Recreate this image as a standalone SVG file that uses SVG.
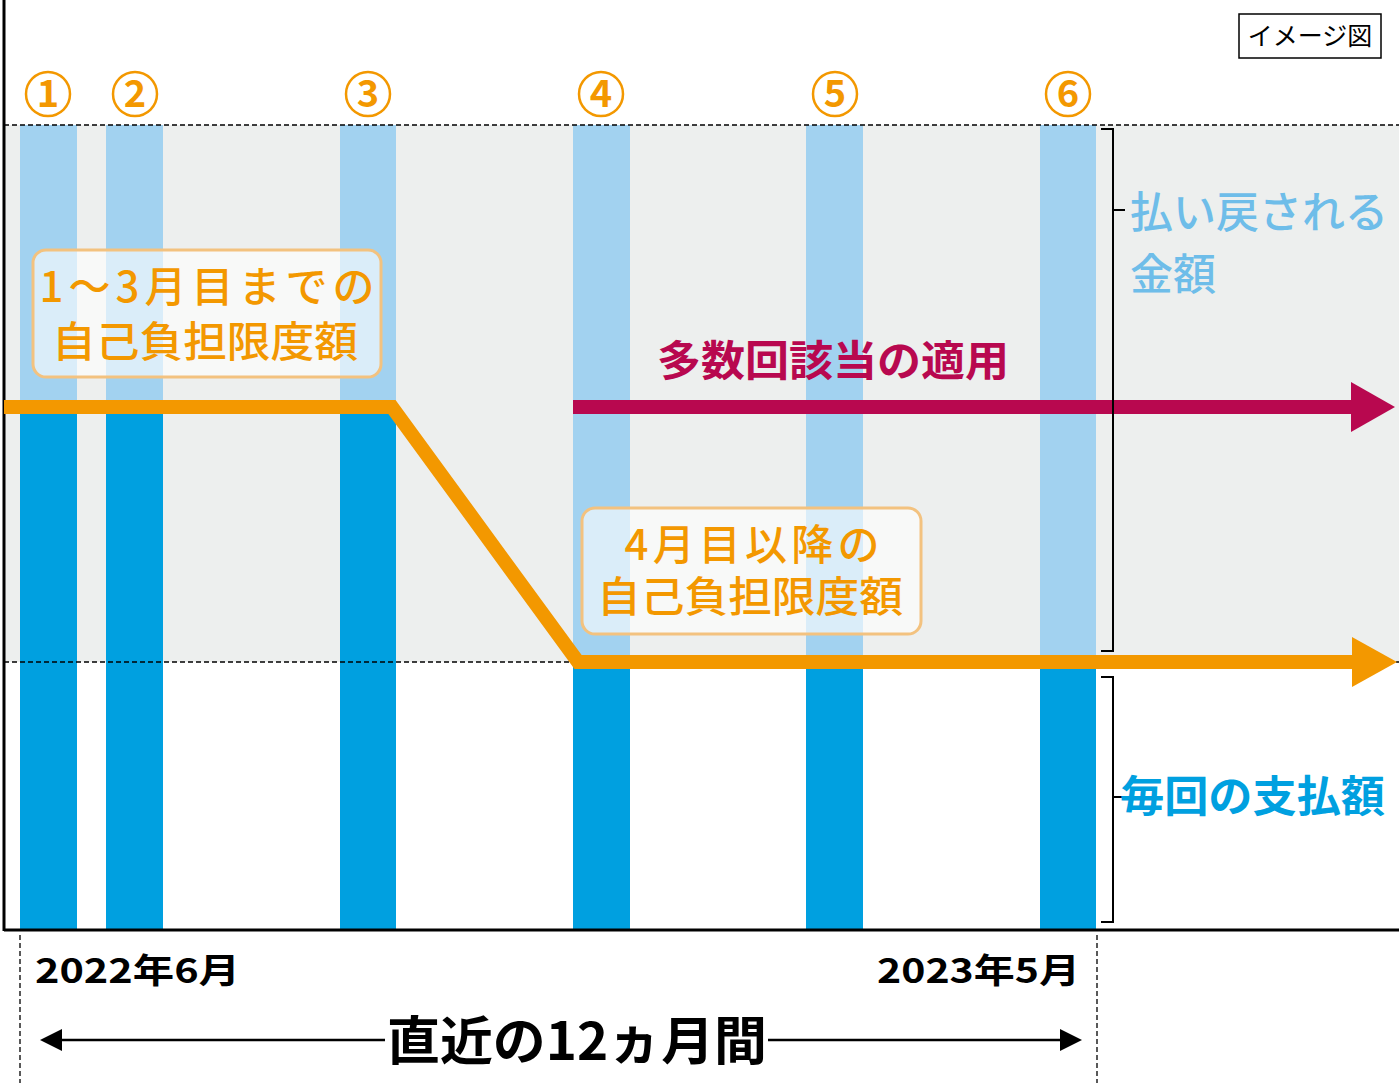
<svg xmlns="http://www.w3.org/2000/svg" width="1399" height="1083" viewBox="0 0 1399 1083">
<style>
.lb{fill:#a2d2f0}.db{fill:#00a0e0}
.cn{font-family:"Noto Sans CJK JP",sans-serif;font-weight:bold;font-size:38px;fill:#f39800;text-anchor:middle}
.or{font-family:"Noto Sans CJK JP",sans-serif;font-weight:500;font-size:42px;fill:#f39800;text-anchor:middle}
.box{fill:#ffffff;fill-opacity:0.6;stroke:#f3c27f;stroke-width:3}
.dash{stroke:#000;stroke-width:1.3;stroke-dasharray:5 3;fill:none}
.br{stroke:#000;stroke-width:2;fill:none}
.bk{font-family:"Noto Sans CJK JP",sans-serif;font-weight:bold;fill:#000}
</style>
<rect width="1399" height="1083" fill="#fff"/>
<rect x="4" y="125" width="1395" height="537" fill="#edefee"/>
<g id="bars">
<rect class="lb" x="20" y="125" width="57" height="283"/><rect class="db" x="20" y="408" width="57" height="522"/>
<rect class="lb" x="106" y="125" width="57" height="283"/><rect class="db" x="106" y="408" width="57" height="522"/>
<rect class="lb" x="340" y="125" width="56" height="283"/><rect class="db" x="340" y="408" width="56" height="522"/>
<rect class="lb" x="573" y="125" width="57" height="537"/><rect class="db" x="573" y="662" width="57" height="268"/>
<rect class="lb" x="806" y="125" width="57" height="537"/><rect class="db" x="806" y="662" width="57" height="268"/>
<rect class="lb" x="1040" y="125" width="56" height="537"/><rect class="db" x="1040" y="662" width="56" height="268"/>
</g>
<line class="dash" x1="4" y1="125" x2="1399" y2="125"/>
<line class="dash" x1="4" y1="662" x2="1399" y2="662"/>
<g id="axes" stroke="#000" stroke-width="3"><line x1="4" y1="0" x2="4" y2="931"/><line x1="4" y1="930" x2="1399" y2="930"/></g>
<g id="numbers" fill="none" stroke="#f39800" stroke-width="2.5">
<circle cx="48" cy="94" r="22"/><circle cx="135" cy="94" r="22"/><circle cx="368" cy="94" r="22"/><circle cx="601" cy="94" r="22"/><circle cx="835" cy="94" r="22"/><circle cx="1068" cy="94" r="22"/>
</g>
<g>
<text class="cn" x="48" y="107">1</text><text class="cn" x="135" y="107">2</text><text class="cn" x="368" y="107">3</text><text class="cn" x="601" y="107">4</text><text class="cn" x="835" y="107">5</text><text class="cn" x="1068" y="107">6</text>
</g>
<g id="connectors">
<polyline points="4,407 392,407 578,662 1356,662" fill="none" stroke="#f39800" stroke-width="14"/>
<path d="M1352,637L1397,662L1352,687z" fill="#f39800"/>
<line x1="573" y1="407" x2="1355" y2="407" stroke="#b8084f" stroke-width="14"/>
<path d="M1351,382L1395,407L1351,432z" fill="#b8084f"/>
</g>
<g id="box1"><rect class="box" x="33" y="250" width="348" height="127" rx="13"/>
<text class="or" x="207" y="302" textLength="335" lengthAdjust="spacing">1～3月目までの</text><text class="or" x="205" y="357" textLength="306" lengthAdjust="spacingAndGlyphs">自己負担限度額</text></g>
<g id="box2"><rect class="box" x="582" y="508" width="339" height="126" rx="13"/>
<text class="or" x="752" y="560" textLength="255" lengthAdjust="spacing">4月目以降の</text><text class="or" x="750" y="612" textLength="306" lengthAdjust="spacingAndGlyphs">自己負担限度額</text></g>
<text x="833" y="376" font-family="Noto Sans CJK JP,sans-serif" font-weight="bold" font-size="42" fill="#b8084f" text-anchor="middle" textLength="352" lengthAdjust="spacingAndGlyphs">多数回該当の適用</text>
<g id="brackets">
<path class="br" d="M1101,129H1113V651H1101M1113,210H1125"/>
<path class="br" d="M1101,677H1113V922H1101M1113,797H1125"/>
</g>
<g font-family="Noto Sans CJK JP,sans-serif" font-weight="500" font-size="43">
<text x="1130" y="228" fill="#6ebde9">払い戻される</text>
<text x="1130" y="290" fill="#6ebde9">金額</text>
<text x="1120" y="812" fill="#00a0e0" font-weight="bold" textLength="265" lengthAdjust="spacingAndGlyphs">毎回の支払額</text>
</g>
<g id="legend"><rect x="1239" y="14" width="142" height="44" fill="#fff" stroke="#000" stroke-width="1.5"/>
<text x="1310" y="45" font-family="Noto Sans CJK JP,sans-serif" font-size="25" text-anchor="middle">イメージ図</text></g>
<line class="dash" x1="20" y1="935" x2="20" y2="1083" stroke-width="2"/>
<line class="dash" x1="1097" y1="935" x2="1097" y2="1083" stroke-width="2"/>
<text class="bk" x="35" y="983" font-size="34" textLength="205" lengthAdjust="spacingAndGlyphs">2022年6月</text>
<text class="bk" x="877" y="983" font-size="34" textLength="203" lengthAdjust="spacingAndGlyphs">2023年5月</text>
<g id="period">
<line x1="60" y1="1040" x2="385" y2="1040" stroke="#000" stroke-width="2.5"/>
<line x1="768" y1="1040" x2="1063" y2="1040" stroke="#000" stroke-width="2.5"/>
<path d="M40,1040L62,1029L62,1051z"/><path d="M1082,1040L1060,1029L1060,1051z"/>
<text class="bk" x="577" y="1060" font-size="52" text-anchor="middle" textLength="380" lengthAdjust="spacingAndGlyphs">直近の12ヵ月間</text>
</g>
</svg>
